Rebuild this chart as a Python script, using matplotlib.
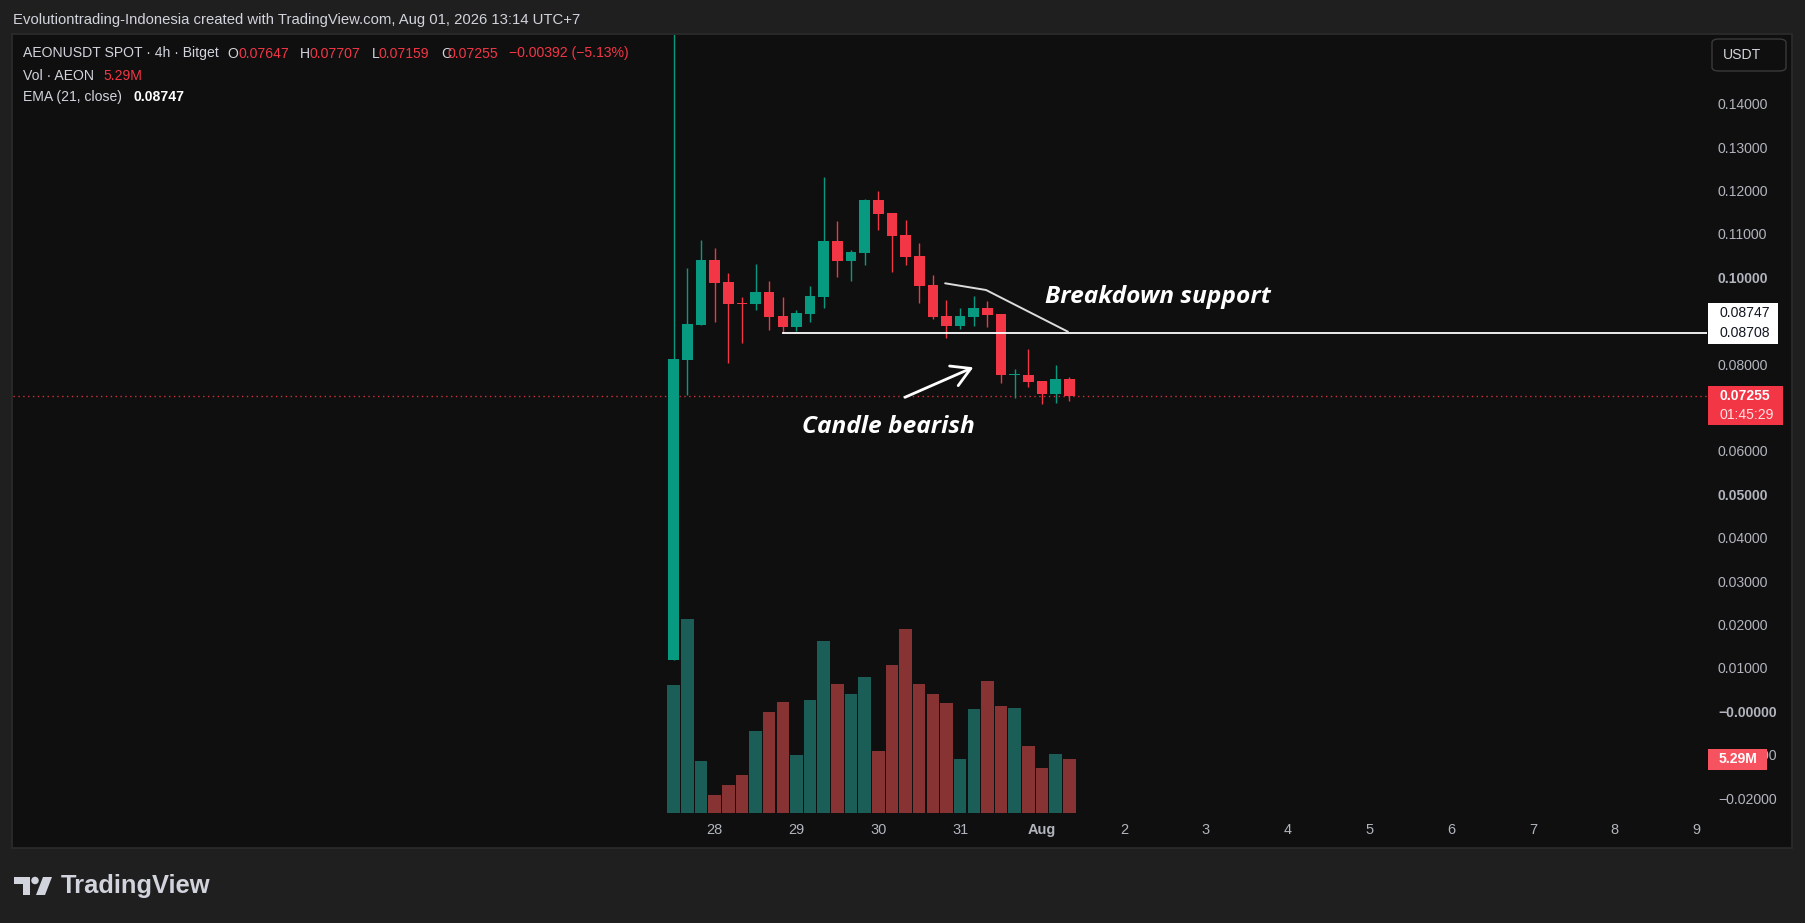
import matplotlib
matplotlib.use('Agg')
import matplotlib.pyplot as plt
from matplotlib import font_manager
from matplotlib.patches import Rectangle, FancyBboxPatch, Polygon, Ellipse
from datetime import datetime, timedelta

W, H = 1805, 923
names = {f.name for f in font_manager.fontManager.ttflist}
UI = 'Liberation Sans' if 'Liberation Sans' in names else 'DejaVu Sans'
ANN = 'Open Sans' if 'Open Sans' in names else ('Lato' if 'Lato' in names else 'DejaVu Sans')

# ---------------- data ----------------
opens = [0.0119, 0.0809, 0.0890, 0.1040, 0.0989, 0.0941, 0.0938, 0.0965, 0.0911, 0.0886,
         0.0915, 0.0955, 0.1084, 0.1038, 0.1057, 0.1178, 0.1149, 0.1097, 0.1049, 0.0982,
         0.0911, 0.0888, 0.0909, 0.0929, 0.0915, 0.0775, 0.0776, 0.0762, 0.0731, 0.07647]
highs = [0.1580, 0.1022, 0.1086, 0.1067, 0.1009, 0.0954, 0.1031, 0.0991, 0.0955, 0.0925,
         0.0980, 0.1232, 0.1130, 0.1063, 0.1180, 0.1200, 0.1149, 0.1132, 0.1080, 0.1005,
         0.0948, 0.0929, 0.0957, 0.0946, 0.0915, 0.0788, 0.0835, 0.0762, 0.0798, 0.07707]
lows = [0.0119, 0.0729, 0.0890, 0.0896, 0.0803, 0.0848, 0.0925, 0.0879, 0.0871, 0.0877,
        0.0896, 0.0929, 0.1000, 0.0992, 0.1028, 0.1109, 0.1013, 0.1028, 0.0941, 0.0903,
        0.0859, 0.0882, 0.0888, 0.0886, 0.0756, 0.0721, 0.0747, 0.0707, 0.0711, 0.07159]
closes = [0.0812, 0.0892, 0.1040, 0.0988, 0.0938, 0.0939, 0.0965, 0.0909, 0.0886, 0.0917,
          0.0957, 0.1084, 0.1038, 0.1058, 0.1178, 0.1147, 0.1095, 0.1047, 0.0980, 0.0909,
          0.0888, 0.0911, 0.0929, 0.0913, 0.0775, 0.0777, 0.0759, 0.0731, 0.0765, 0.07255]
volumes_m = [12.58, 19.15, 5.09, 1.74, 2.73, 3.71, 8.05, 9.95, 10.93, 5.68,
             11.10, 16.91, 12.68, 11.69, 13.37, 6.08, 14.55, 18.09, 12.68, 11.69,
             10.81, 5.29, 10.21, 12.97, 10.51, 10.31, 6.57, 4.40, 5.78, 5.29]

first_bar_time = datetime(2026, 7, 27, 12, 0)
bar_hours = 4
day_dates = [datetime(2026, 7, 28) + timedelta(days=k) for k in range(13)]
day_labels = ['28', '29', '30', '31', 'Aug', '2', '3', '4', '5', '6', '7', '8', '9']

price_ticks = [0.14, 0.13, 0.12, 0.11, 0.10, 0.08, 0.06, 0.05, 0.04, 0.03,
               0.02, 0.01, 0.00, -0.01, -0.02]
price_tick_labels = ['0.14000', '0.13000', '0.12000', '0.11000', '0.10000',
                     '0.08000', '0.06000', '0.05000', '0.04000', '0.03000',
                     '0.02000', '0.01000', '\u22120.00000', '\u22120.01000', '\u22120.02000']
bold_price_ticks = [0.10, 0.05, 0.00]

support_level = 0.08708
support_start_bar = 8
ema_value = 0.08747
last_close = 0.07255
countdown = '01:45:29'
last_volume_label = '5.29M'

trend_x = [19.9, 22.9, 28.9]
trend_y = [0.09862, 0.09707, 0.08747]
arrow_from = (16.95, 0.07235)
arrow_to = (21.97, 0.07926)
label_breakdown = ('Breakdown support', 27.25, 0.09553)
label_bearish = ('Candle bearish', 9.38, 0.06560)

header = 'Evolutiontrading-Indonesia created with TradingView.com, Aug 01, 2026 13:14 UTC+7'
legend_title = 'AEONUSDT SPOT \u00b7 4h \u00b7 Bitget'
ohlc_change = '\u22120.00392 (\u22125.13%)'

# ---------------- style ----------------
UP = '#089981'
DN = '#f23645'
UPV = '#1b5e57'
DNV = '#883333'
TXT = '#d1d4dc'
AX = '#b2b5be'
BG = '#0f0f0f'
OUT = '#1f1f1f'
PX = 0.72  # points per pixel at dpi 100

fig = plt.figure(figsize=(W / 100, H / 100), dpi=100, facecolor=OUT)

def fx(x):
    return x / W

def fy(y):
    return 1 - y / H

# chart panel
fig.add_artist(Rectangle((fx(12), fy(848)), (1792 - 12) / W, (848 - 34) / H,
                         transform=fig.transFigure, facecolor=BG, edgecolor='#2c2c2c',
                         lw=1.2, zorder=-5))

ax_l, ax_r, ax_t, ax_b = 13, 1707, 35, 813
pos = [fx(ax_l), fy(ax_b), (ax_r - ax_l) / W, (ax_b - ax_t) / H]
vax = fig.add_axes(pos, zorder=1)
ax = fig.add_axes(pos, zorder=2, sharex=vax)
for a in (vax, ax):
    a.set_facecolor('none')
    for s in a.spines.values():
        s.set_visible(False)

# x mapping (bar index), y mapping (price)
bar0_px, bar_px = 673.7, 13.64
ax.set_xlim((ax_l - bar0_px) / bar_px, (ax_r - bar0_px) / bar_px)
y_ref_px, px_per_unit = 277.3, 4340.0
ax.set_ylim(0.10 - (ax_b - y_ref_px) / px_per_unit, 0.10 + (y_ref_px - ax_t) / px_per_unit)
vol_px_ref = 53.7  # pixel height of the 5.29M bar
vax.set_ylim(0, (ax_b - ax_t) / vol_px_ref * volumes_m[-1])

idx = list(range(len(opens)))
up = [c >= o for o, c in zip(opens, closes)]
ccol = [UP if u else DN for u in up]
vcol = [UPV if u else DNV for u in up]

# volume
vax.bar(idx, volumes_m, width=0.92, color=vcol, linewidth=0)
vax.set_yticks([])
vax.tick_params(axis='x', length=0, labelbottom=False)

# candles
ax.vlines(idx, lows, highs, colors=ccol, linewidth=1.0, zorder=3)
bottoms = [min(o, c) for o, c in zip(opens, closes)]
heights = [max(abs(c - o), 0.00025) for o, c in zip(opens, closes)]
ax.bar(idx, heights, bottom=bottoms, width=0.78, color=ccol, linewidth=0, zorder=4)

# x ticks at day boundaries
day_pos = [(d - first_bar_time).total_seconds() / 3600 / bar_hours for d in day_dates]
ax.set_xticks(day_pos)
ax.set_xticklabels(day_labels, fontfamily=UI, fontsize=14.5 * PX, color=AX)
ax.tick_params(axis='x', length=0, pad=7)
for lab in ax.get_xticklabels():
    if lab.get_text() == 'Aug':
        lab.set_fontweight('bold')

# y ticks on right
ax.yaxis.tick_right()
ax.set_yticks(price_ticks)
ax.set_yticklabels(price_tick_labels, fontfamily=UI, fontsize=14 * PX, color=AX)
ax.tick_params(axis='y', length=0, pad=11 * PX)
for lab, v in zip(ax.get_yticklabels(), price_ticks):
    if any(abs(v - b) < 1e-9 for b in bold_price_ticks):
        lab.set_fontweight('bold')

# lines
xl = ax.get_xlim()
ax.axhline(last_close, color=DN, lw=1.0, ls=(0, (1, 2.5)), alpha=0.85, zorder=2)
ax.axhline(support_level, xmin=(support_start_bar - xl[0]) / (xl[1] - xl[0]), xmax=1,
           color='white', lw=1.3, zorder=5)
ax.plot(trend_x, trend_y, color='#dcdcdc', lw=1.4, zorder=5, solid_capstyle='round')
ax.annotate('', xy=arrow_to, xytext=arrow_from,
            arrowprops=dict(arrowstyle='->,head_length=0.95,head_width=0.55',
                            color='white', lw=2.0, mutation_scale=14, shrinkA=0, shrinkB=0),
            zorder=6)
for txt, xx, yy in (label_breakdown, label_bearish):
    ax.text(xx, yy, txt, color='white', fontsize=24.5 * PX, fontfamily=ANN,
            fontweight='bold', fontstyle='italic', ha='left', va='center', zorder=7)

# ---------------- price-scale labels ----------------
def ydisp(a, v):
    return a.transData.transform((0, v))[1] / (fig.dpi * fig.get_size_inches()[1]) * H

def box(x0, x1, yc_from_top, h, color, zorder=10):
    fig.add_artist(Rectangle((fx(x0), fy(yc_from_top + h / 2)), (x1 - x0) / W, h / H,
                             transform=fig.transFigure, facecolor=color, edgecolor='none',
                             zorder=zorder))

def ftxt(x, y, s, color, size, weight='normal', ha='left', family=None, zorder=11):
    fig.text(fx(x), fy(y), s, color=color, fontsize=size * PX, fontweight=weight,
             ha=ha, va='center', fontfamily=family or UI, zorder=zorder)

y_sup = H - ydisp(ax, support_level)
box(1707.7, 1777.7, y_sup, 20.5, 'white')
ftxt(1719, y_sup, f'{support_level:.5f}', '#131722', 14)
box(1707.7, 1777.7, y_sup - 20.5, 20.5, 'white')
ftxt(1719, y_sup - 20.5, f'{ema_value:.5f}', '#131722', 14)

y_last = H - ydisp(ax, last_close)
box(1707.7, 1782.7, y_last + 9, 39.5, DN)
ftxt(1719, y_last, f'{last_close:.5f}', 'white', 14, 'bold')
ftxt(1719, y_last + 18.5, countdown, '#ffe1e4', 14)

y_vol = H - ydisp(vax, volumes_m[-1])
box(1707.7, 1766.7, y_vol, 21, '#f7525f')
ftxt(1719, y_vol, last_volume_label, 'white', 14, 'bold')

# currency button
fig.add_artist(FancyBboxPatch((fx(1712), fy(71)), (1786 - 1712) / W, 32 / H,
                              boxstyle='round,pad=0,rounding_size=0.004',
                              transform=fig.transFigure, facecolor=BG, edgecolor='#3a3a3a',
                              lw=1.0, zorder=9))
ftxt(1723, 55, 'USDT', TXT, 14)

# ---------------- header & legend ----------------
ftxt(13.4, 19.6, header, TXT, 14.9)
segs1 = [(23.2, legend_title, TXT), (227.7, 'O', TXT), (238.8, f'{opens[-1]:.5f}', DN),
         (300, 'H', TXT), (310, f'{highs[-1]:.5f}', DN), (371.4, 'L', TXT),
         (378.6, f'{lows[-1]:.5f}', DN), (441, 'C', TXT), (447.8, f'{closes[-1]:.5f}', DN),
         (509, ohlc_change, DN)]
for x, s, c in segs1:
    ftxt(x, 53.5, s, c, 14)
ftxt(23.2, 76, 'Vol \u00b7 AEON', TXT, 14)
ftxt(103.6, 76, last_volume_label, DN, 14)
ftxt(23.2, 96.7, 'EMA (21, close)', TXT, 14)
ftxt(134, 96.7, f'{ema_value:.5f}', 'white', 14, 'bold')

# ---------------- TradingView logo ----------------
LG = '#d1d4dc'
def P(pts):
    return [(fx(x), fy(y)) for x, y in pts]
fig.add_artist(Polygon(P([(14, 877), (30, 877), (30, 895), (22.5, 895), (22.5, 884), (14, 884)]),
                       closed=True, transform=fig.transFigure, facecolor=LG, edgecolor='none'))
fig.add_artist(Ellipse((fx(35), fy(880.5)), 7.5 / W, 7.5 / H, transform=fig.transFigure,
                       facecolor=LG, edgecolor='none'))
fig.add_artist(Polygon(P([(43, 877), (52, 877), (45, 895), (36, 895)]), closed=True,
                       transform=fig.transFigure, facecolor=LG, edgecolor='none'))
fig.text(fx(61), fy(886), 'TradingView', color=LG, fontsize=25.5 * PX, fontweight='bold',
         fontfamily=UI, ha='left', va='center')

fig.savefig('out.png', dpi=100, facecolor=OUT)
